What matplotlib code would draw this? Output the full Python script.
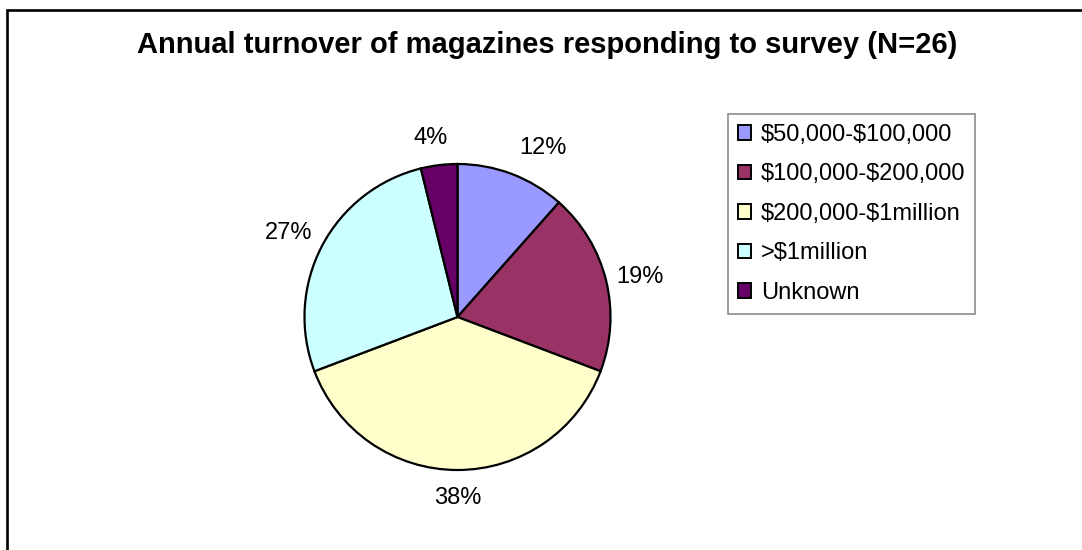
import numpy as np
import matplotlib
matplotlib.use('Agg')
import matplotlib.pyplot as plt
import matplotlib.patches as mpatches

plt.rcParams['font.family'] = ['Liberation Sans', 'DejaVu Sans']

# survey responses (N=26), by annual turnover band
categories = ['$50,000-$100,000', '$100,000-$200,000', '$200,000-$1million',
              '>$1million', 'Unknown']
counts = [3, 5, 10, 7, 1]
colors = ['#9999FF', '#993366', '#FFFFCC', '#CCFFFF', '#660066']

# percent label placement around the pie (radius, angular nudge in degrees)
label_radius = [1.24, 1.22, 1.18, 1.23, 1.18]
label_nudge = [-6.0, -1.4, 0.0, 1.3, 1.5]

W, H = 1082, 550
fig = plt.figure(figsize=(W / 100, H / 100), dpi=100)
fig.patch.set_facecolor('white')

# outer chart-area border (runs off the right and bottom edges)
border = mpatches.Rectangle((7 / W, -0.05), 1.1, 1.05 - 10 / H,
                            transform=fig.transFigure, fill=False,
                            edgecolor='black', linewidth=1.9)
fig.patches.append(border)

fig.text(547 / W, 1 - 45 / H,
         'Annual turnover of magazines responding to survey (N=26)',
         ha='center', va='center', fontsize=21, fontweight='bold')

# pie axes: centre (457, 317) px, radius 153 px
cx, cy, r = 457.5, 317, 153
ax = fig.add_axes([(cx - r) / W, (H - cy - r) / H, 2 * r / W, 2 * r / H])

wedges, _ = ax.pie(counts, colors=colors, startangle=90, counterclock=False,
                   radius=1.0, wedgeprops=dict(edgecolor='black', linewidth=1.6))
ax.set_xlim(-1, 1)
ax.set_ylim(-1, 1)
ax.axis('off')

total = sum(counts)
for w, c, rad, nudge in zip(wedges, counts, label_radius, label_nudge):
    mid = np.deg2rad((w.theta1 + w.theta2) / 2 + nudge)
    ax.text(rad * np.cos(mid), rad * np.sin(mid), f'{round(100 * c / total)}%',
            ha='center', va='center', fontsize=17, clip_on=False)

handles = [mpatches.Patch(facecolor=col, edgecolor='black', linewidth=1.4,
                          label=cat.replace('$', r'\$'))
           for cat, col in zip(categories, colors)]
leg = fig.legend(handles=handles, loc='upper left',
                 bbox_to_anchor=(728 / W, 1 - 114 / H), bbox_transform=fig.transFigure,
                 fontsize=17, frameon=True, fancybox=False, borderaxespad=0,
                 handlelength=0.55, handleheight=0.55, handletextpad=0.42,
                 labelspacing=0.74, borderpad=0.42)
frame = leg.get_frame()
frame.set_edgecolor('#707070')
frame.set_linewidth(1.2)

fig.savefig('out.png', dpi=100)
